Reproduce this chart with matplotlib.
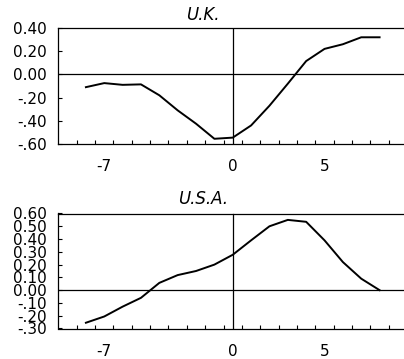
import numpy as np
import matplotlib.pyplot as plt

# lags and responses
lags = [-8, -7, -6, -5, -4, -3, -2, -1, 0, 1, 2, 3, 4, 5, 6, 7, 8]
uk = [-0.11, -0.075, -0.09, -0.086, -0.18, -0.31, -0.425, -0.555, -0.545,
      -0.44, -0.27, -0.08, 0.115, 0.22, 0.26, 0.32, 0.32]
usa = [-0.255, -0.206, -0.129, -0.06, 0.057, 0.118, 0.15, 0.20, 0.277,
       0.39, 0.50, 0.55, 0.535, 0.39, 0.22, 0.09, 0.0]

uk_ticks = [0.4, 0.2, 0.0, -0.2, -0.4, -0.6]
uk_labels = ['0.40', '0.20', '0.00', '-.20', '-.40', '-.60']
usa_ticks = [0.6, 0.5, 0.4, 0.3, 0.2, 0.1, 0.0, -0.1, -0.2, -0.3]
usa_labels = ['0.60', '0.50', '0.40', '0.30', '0.20', '0.10', '0.00',
              '-.10', '-.20', '-.30']
x_ticks = [-7, 0, 5]

W, H = 404, 359
fig = plt.figure(figsize=(W / 100, H / 100), dpi=100)


def panel(top, bottom, values, yticks, ylabels, ylim, title, title_y):
    ax = fig.add_axes([58 / W, 1 - bottom / H, (W - 58) / W, (bottom - top) / H])
    ax.plot(lags, values, color='black', lw=1.4)
    ax.axhline(0, color='black', lw=0.9)
    ax.axvline(0, color='black', lw=0.9)
    ax.set_xlim(-9.52, 9.33)
    ax.set_ylim(*ylim)
    ax.spines['right'].set_visible(False)
    for s in ['left', 'top', 'bottom']:
        ax.spines[s].set_linewidth(0.9)
    ax.set_yticks(yticks)
    ax.set_yticklabels(ylabels, fontsize=11)
    ax.set_xticks(x_ticks)
    ax.set_xticklabels([str(t) for t in x_ticks], fontsize=11)
    ax.set_xticks(np.arange(-8.5, 9.0, 1.0), minor=True)
    ax.tick_params(axis='y', direction='in', length=3, width=0.8, pad=8)
    ax.tick_params(axis='x', which='major', length=0, pad=11)
    ax.tick_params(axis='x', which='minor', direction='in', length=3, width=0.8)
    fig.text(203 / W, 1 - title_y / H, title, ha='center', va='center',
             fontsize=12, style='italic')
    return ax


panel(28, 144, uk, uk_ticks, uk_labels, (-0.6, 0.4), 'U.K.', 15.5)
panel(213.5, 328.5, usa, usa_ticks, usa_labels, (-0.29, 0.6), 'U.S.A.', 199)

fig.savefig('out.png', dpi=100)
